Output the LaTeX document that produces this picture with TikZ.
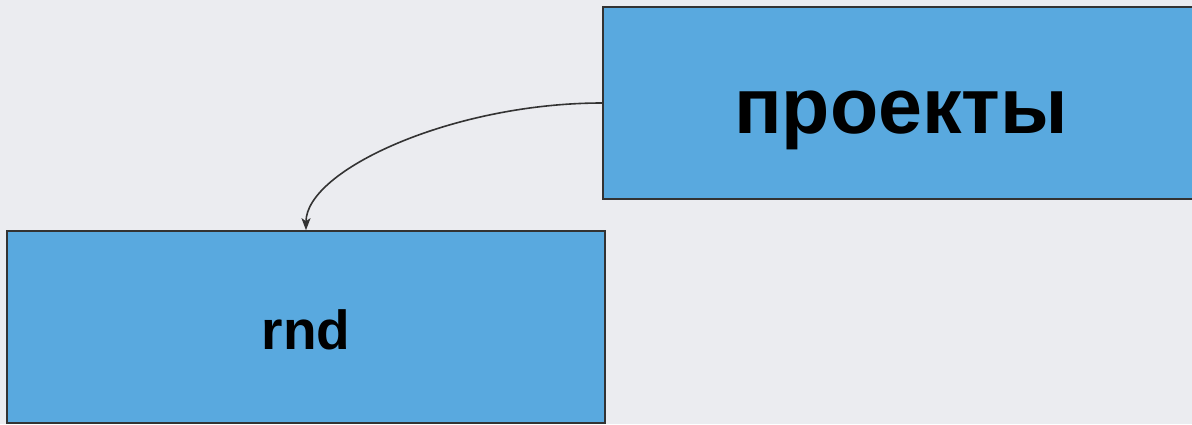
\documentclass[tikz,border=0pt]{standalone}
\usepackage{fontspec}
\setmainfont{Liberation Sans}
\usetikzlibrary{arrows.meta}
\definecolor{bg}{HTML}{EBECF0}
\definecolor{boxfill}{HTML}{59A9DF}
\definecolor{edge}{HTML}{333333}
\tikzset{
  block/.style={draw=edge, line width=1.6pt, fill=boxfill, inner sep=0pt, text=black, text depth=0pt},
  link/.style={draw=edge, line width=1.6pt, -{Stealth[length=12pt,width=9pt,inset=3pt]}}
}
\begin{document}
\begin{tikzpicture}[x=1pt,y=-1pt]
\useasboundingbox (0,0) rectangle (1192,424);
\clip (0,0) rectangle (1192,424);
\fill[bg] (0,0) rectangle (1192,424);
\node[block, minimum width=596pt, minimum height=192pt, text height=60pt, font=\fontsize{79}{82}\selectfont\bfseries] (p) at (901,103) {проекты};
\node[block, minimum width=598pt, minimum height=192pt, text height=44pt, font=\fontsize{55}{58}\selectfont\bfseries] (r) at (306,327) {rnd};
\draw[link] (p.west) .. controls +(-150,0) and +(0,-60) .. (r.north);
\end{tikzpicture}
\end{document}
